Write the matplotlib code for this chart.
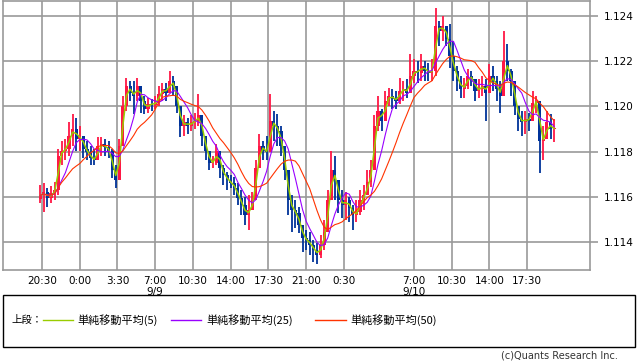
import numpy as np
import pandas as pd
import matplotlib
matplotlib.use("Agg")
import matplotlib.pyplot as plt
from matplotlib.patches import Rectangle
from matplotlib.lines import Line2D

# 20分足  9/8 20:20 ～ 9/10 20:00 (時間は 9/8 0:00 からの経過時間)
start_hour = 20 + 20 / 60
step_hour = 20 / 60
first_open = 1.11590

close = [
    1.11607, 1.11620, 1.11594, 1.11616, 1.11629, 1.11783, 1.11805, 1.11814, 1.11871, 1.11902,
    1.11858, 1.11871, 1.11814, 1.11797, 1.11770, 1.11761, 1.11823, 1.11832, 1.11819, 1.11805,
    1.11717, 1.11673, 1.11827, 1.12004, 1.12092, 1.12061, 1.12048, 1.12092, 1.12026, 1.11990,
    1.12012, 1.12008, 1.12017, 1.12056, 1.12078, 1.12061, 1.12114, 1.12092, 1.12004, 1.11915,
    1.11929, 1.11915, 1.11929, 1.11937, 1.11960, 1.11871, 1.11805, 1.11752, 1.11752, 1.11805,
    1.11726, 1.11695, 1.11673, 1.11660, 1.11638, 1.11594, 1.11563, 1.11519, 1.11541, 1.11585,
    1.11726, 1.11827, 1.11805, 1.11797, 1.11937, 1.11915, 1.11893, 1.11827, 1.11717, 1.11585,
    1.11541, 1.11528, 1.11475, 1.11418, 1.11409, 1.11387, 1.11365, 1.11343, 1.11387, 1.11444,
    1.11585, 1.11717, 1.11673, 1.11585, 1.11563, 1.11585, 1.11550, 1.11519, 1.11532, 1.11585,
    1.11607, 1.11664, 1.11717, 1.11915, 1.11982, 1.11937, 1.12026, 1.12048, 1.12034, 1.12026,
    1.12070, 1.12078, 1.12061, 1.12136, 1.12158, 1.12149, 1.12180, 1.12158, 1.12149, 1.12158,
    1.12356, 1.12334, 1.12356, 1.12299, 1.12224, 1.12158, 1.12114, 1.12078, 1.12092, 1.12136,
    1.12122, 1.12070, 1.12078, 1.12092, 1.12061, 1.12136, 1.12114, 1.12078, 1.12048, 1.12202,
    1.12158, 1.12114, 1.12004, 1.11946, 1.11929, 1.11946, 1.11937, 1.12017, 1.12026, 1.11849,
    1.11858, 1.11929, 1.11902, 1.11902,
]
high = [
    1.11651, 1.11660, 1.11638, 1.11647, 1.11664, 1.11814, 1.11849, 1.11858, 1.11929, 1.11968,
    1.11951, 1.11915, 1.11871, 1.11849, 1.11827, 1.11814, 1.11863, 1.11863, 1.11858, 1.11849,
    1.11814, 1.11739, 1.11858, 1.12048, 1.12127, 1.12114, 1.12114, 1.12127, 1.12078, 1.12048,
    1.12039, 1.12034, 1.12048, 1.12092, 1.12105, 1.12105, 1.12158, 1.12136, 1.12078, 1.12004,
    1.11960, 1.11951, 1.11960, 1.11973, 1.12056, 1.11960, 1.11858, 1.11805, 1.11783, 1.11836,
    1.11805, 1.11739, 1.11708, 1.11695, 1.11686, 1.11660, 1.11629, 1.11598, 1.11607, 1.11620,
    1.11761, 1.11880, 1.11849, 1.11871, 1.12056, 1.11982, 1.11968, 1.11915, 1.11805, 1.11673,
    1.11607, 1.11585, 1.11554, 1.11475, 1.11453, 1.11444, 1.11409, 1.11396, 1.11431, 1.11497,
    1.11629, 1.11805, 1.11783, 1.11660, 1.11629, 1.11620, 1.11598, 1.11563, 1.11585, 1.11629,
    1.11651, 1.11717, 1.11761, 1.11960, 1.12048, 1.11990, 1.12070, 1.12083, 1.12078, 1.12070,
    1.12127, 1.12114, 1.12122, 1.12233, 1.12211, 1.12202, 1.12233, 1.12202, 1.12193, 1.12211,
    1.12435, 1.12378, 1.12400, 1.12356, 1.12365, 1.12290, 1.12180, 1.12136, 1.12127, 1.12167,
    1.12158, 1.12114, 1.12122, 1.12136, 1.12122, 1.12189, 1.12180, 1.12136, 1.12114, 1.12334,
    1.12277, 1.12167, 1.12070, 1.11990, 1.11982, 1.11982, 1.11973, 1.12070, 1.12048, 1.11973,
    1.11915, 1.11982, 1.11968, 1.11946,
]
low = [
    1.11572, 1.11532, 1.11554, 1.11572, 1.11585, 1.11607, 1.11739, 1.11761, 1.11783, 1.11827,
    1.11805, 1.11805, 1.11770, 1.11761, 1.11739, 1.11739, 1.11761, 1.11783, 1.11783, 1.11770,
    1.11682, 1.11638, 1.11673, 1.11849, 1.11982, 1.12026, 1.11968, 1.12026, 1.11973, 1.11968,
    1.11973, 1.11982, 1.11990, 1.12004, 1.12026, 1.12026, 1.12061, 1.12048, 1.11973, 1.11863,
    1.11871, 1.11880, 1.11893, 1.11902, 1.11915, 1.11827, 1.11761, 1.11717, 1.11726, 1.11739,
    1.11682, 1.11651, 1.11629, 1.11638, 1.11607, 1.11563, 1.11519, 1.11475, 1.11453, 1.11541,
    1.11607, 1.11739, 1.11761, 1.11761, 1.11827, 1.11849, 1.11827, 1.11783, 1.11673, 1.11519,
    1.11444, 1.11461, 1.11440, 1.11356, 1.11365, 1.11343, 1.11312, 1.11303, 1.11330, 1.11365,
    1.11475, 1.11585, 1.11585, 1.11528, 1.11506, 1.11497, 1.11488, 1.11453, 1.11488, 1.11519,
    1.11541, 1.11607, 1.11642, 1.11761, 1.11893, 1.11893, 1.11973, 1.12004, 1.11990, 1.11990,
    1.12012, 1.12026, 1.12039, 1.12070, 1.12105, 1.12105, 1.12114, 1.12114, 1.12114, 1.12114,
    1.12136, 1.12268, 1.12290, 1.12268, 1.12171, 1.12114, 1.12070, 1.12039, 1.12039, 1.12078,
    1.12092, 1.12026, 1.12039, 1.12048, 1.11937, 1.12070, 1.12070, 1.12026, 1.11973, 1.12048,
    1.12114, 1.12048, 1.11960, 1.11893, 1.11871, 1.11880, 1.11893, 1.11960, 1.11973, 1.11704,
    1.11761, 1.11863, 1.11858, 1.11841,
]

tick_hours = [20.5, 24, 27.5, 31, 34.5, 38, 41.5, 45, 48.5, 55, 58.5, 62, 65.5]
tick_labels = ["20:30", "0:00", "3:30", "7:00\n9/9", "10:30", "14:00", "17:30",
               "21:00", "0:30", "7:00\n9/10", "10:30", "14:00", "17:30"]
y_ticks = [1.114, 1.116, 1.118, 1.120, 1.122, 1.124]

ma_names = ["単純移動平均(5)", "単純移動平均(25)", "単純移動平均(50)"]
ma_windows = [2, 6, 12]   # 5分足の 5/25/50 本を 20分足に換算
ma_colors = ["#99cc00", "#9900ff", "#ff3300"]

up_color = "#ff1744"
down_color = "#003399"

df = pd.DataFrame({"close": close, "high": high, "low": low})
df["open"] = df["close"].shift(1).fillna(first_open)
df["high"] = df[["high", "open", "close"]].max(axis=1)
df["low"] = df[["low", "open", "close"]].min(axis=1)
df["t"] = start_hour + step_hour * np.arange(len(df))

fig = plt.figure(figsize=(6.38, 3.62), dpi=100)
ax = fig.add_axes([3 / 638, 1 - 270 / 362, 587 / 638, 269 / 362])

colors = np.where(df["close"] >= df["open"], up_color, down_color)
ax.vlines(df["t"], df["low"], df["high"], colors=colors, linewidth=1.3, zorder=3)
body_bottom = df[["open", "close"]].min(axis=1)
body_height = (df["close"] - df["open"]).abs().clip(lower=0.00004)
ax.bar(df["t"], body_height, bottom=body_bottom, width=0.29, color=colors,
       linewidth=0, zorder=3)

for win, col, lw in zip(ma_windows, ma_colors, [1.1, 0.8, 0.8]):
    ma = df["close"].rolling(win, min_periods=1).mean()
    ax.plot(df["t"], ma, color=col, linewidth=lw, zorder=4)

ax.set_xlim(16.88, 71.33)
ax.set_ylim(1.11277, 1.12466)
ax.set_xticks(tick_hours)
ax.set_xticklabels(tick_labels)
ax.set_yticks(y_ticks)
ax.set_yticklabels(["%.3f" % v for v in y_ticks])
ax.yaxis.tick_right()
ax.tick_params(axis="y", length=6, color="#999999", width=1.2, labelsize=7.5, pad=4)
ax.tick_params(axis="x", length=0, labelsize=7.5, pad=4)
ax.grid(color="#999999", linewidth=1.2, zorder=0)
ax.set_axisbelow(True)
for s in ax.spines.values():
    s.set_color("#999999")
    s.set_linewidth(1.2)

# 凡例
fig.patches.append(Rectangle((3 / 638, 1 - 347 / 362), 632 / 638, 52 / 362,
                             transform=fig.transFigure, fill=False,
                             edgecolor="black", linewidth=1.0))
jp = ["Noto Sans CJK JP", "DejaVu Sans"]
ly = 1 - 320 / 362
fig.text(11 / 638, ly, "上段：", family=jp, fontsize=7.5, va="center")
line_x = [(43, 73), (171, 201), (315, 346)]
text_x = [77, 206, 350]
for (x0, x1), tx, col, name in zip(line_x, text_x, ma_colors, ma_names):
    fig.lines.append(Line2D([x0 / 638, x1 / 638], [ly, ly], transform=fig.transFigure,
                            color=col, linewidth=1.0))
    fig.text(tx / 638, ly, name, family=jp, fontsize=8, va="center")

fig.text(618 / 638, 1 - 356 / 362, "(c)Quants Research Inc.", fontsize=7,
         ha="right", va="center", color="#333333")

fig.savefig("out.png", dpi=100)
